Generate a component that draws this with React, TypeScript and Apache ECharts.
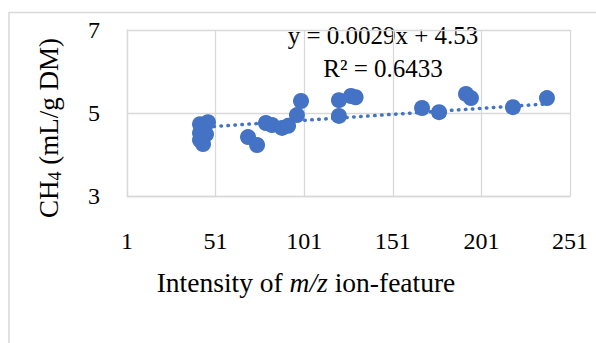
import React, { useEffect, useRef } from "react";
import * as echarts from "echarts";

// Sample intensity (m/z ion-feature) and measured methane yield
const intensity = [
  42.2, 46.7, 42.2, 45.6, 42.2, 43.9, 69.3, 74.4, 79.4, 82.8, 88.5, 91.9,
  96.9, 99.2, 120.6, 120.6, 127.4, 130.0, 167.5, 177.1, 192.3, 195.1, 218.8, 238.0,
];
const ch4Yield = [
  4.73, 4.78, 4.52, 4.49, 4.35, 4.25, 4.42, 4.23, 4.76, 4.71, 4.64, 4.69,
  4.95, 5.29, 4.93, 5.31, 5.41, 5.38, 5.12, 5.02, 5.46, 5.36, 5.14, 5.36,
];

// Linear trend line coefficients and fit quality
const trendSlope = 0.0029;
const trendIntercept = 4.53;
const rSquared = 0.6433;

const xTicks = { min: 1, max: 251, step: 50 };
const yTicks = { min: 3, max: 7, step: 2 };

const SERIF = "'Liberation Serif', 'Times New Roman', serif";
const BLUE = "#4472C4";
const GRID_GREY = "#d9d9d9";

export default function App() {
  const ref = useRef<HTMLDivElement>(null);

  useEffect(() => {
    if (!ref.current) return;
    const chart = echarts.init(ref.current, null, { renderer: "svg" });

    const points = intensity.map((x, i) => [x, ch4Yield[i]]);
    const xLo = Math.min(...intensity);
    const xHi = Math.max(...intensity);
    const trend = [
      [xLo, trendIntercept + trendSlope * xLo],
      [xHi, trendIntercept + trendSlope * xHi],
    ];

    chart.setOption({
      animation: false,
      backgroundColor: "#ffffff",
      grid: { left: 127, top: 30, width: 443, height: 166 },
      xAxis: {
        type: "value",
        min: xTicks.min,
        max: xTicks.max,
        interval: xTicks.step,
        axisLine: { show: true, lineStyle: { color: GRID_GREY, width: 1.3 } },
        axisTick: { show: false },
        splitLine: { show: true, lineStyle: { color: GRID_GREY, width: 1.3 } },
        axisLabel: {
          margin: 33,
          color: "#000",
          fontFamily: SERIF,
          fontSize: 24,
        },
      },
      yAxis: {
        type: "value",
        min: yTicks.min,
        max: yTicks.max,
        interval: yTicks.step,
        axisLine: { show: true, lineStyle: { color: GRID_GREY, width: 1.3 } },
        axisTick: { show: false },
        splitLine: { show: true, lineStyle: { color: GRID_GREY, width: 1.3 } },
        axisLabel: {
          margin: 27,
          color: "#000",
          fontFamily: SERIF,
          fontSize: 24,
        },
      },
      series: [
        {
          type: "line",
          data: trend,
          symbol: "none",
          silent: true,
          lineStyle: {
            color: BLUE,
            width: 3.5,
            type: [0.5, 6.5],
            cap: "round",
          },
          z: 2,
        },
        {
          type: "scatter",
          data: points,
          symbol: "circle",
          symbolSize: 16,
          itemStyle: { color: BLUE, opacity: 1 },
          z: 3,
        },
      ],
      graphic: [
        {
          type: "polyline",
          silent: true,
          shape: { points: [[9, 400], [9, 12.5], [700, 12.5]] },
          style: { stroke: GRID_GREY, lineWidth: 1.5, fill: "none" },
        },
        {
          type: "text",
          x: 383,
          y: 35,
          style: {
            text: `y = ${trendSlope}x + ${trendIntercept}`,
            fontFamily: SERIF,
            fontSize: 25,
            fill: "#000",
            align: "center",
            verticalAlign: "middle",
          },
        },
        {
          type: "text",
          x: 383,
          y: 68,
          style: {
            text: `R² = ${rSquared}`,
            fontFamily: SERIF,
            fontSize: 25,
            fill: "#000",
            align: "center",
            verticalAlign: "middle",
          },
        },
        {
          type: "text",
          x: 49,
          y: 128,
          rotation: Math.PI / 2,
          style: {
            text: "{a|CH}{s|4}{a| (mL/g DM)}",
            align: "center",
            verticalAlign: "middle",
            fill: "#000",
            rich: {
              a: { fontFamily: SERIF, fontSize: 27, lineHeight: 30, fill: "#000" },
              s: {
                fontFamily: SERIF,
                fontSize: 18,
                lineHeight: 30,
                fill: "#000",
                verticalAlign: "bottom",
              },
            },
          },
        },
        {
          type: "text",
          x: 306,
          y: 282,
          style: {
            text: "{a|Intensity of }{i|m/z}{a| ion-feature}",
            align: "center",
            verticalAlign: "middle",
            fill: "#000",
            rich: {
              a: { fontFamily: SERIF, fontSize: 27.5, fill: "#000" },
              i: { fontFamily: SERIF, fontSize: 27.5, fontStyle: "italic", fill: "#000" },
            },
          },
        },
      ],
    });

    return () => chart.dispose();
  }, []);

  return (
    <div
      ref={ref}
      style={{ position: "fixed", left: 0, top: 0, width: 596, height: 343 }}
    />
  );
}
